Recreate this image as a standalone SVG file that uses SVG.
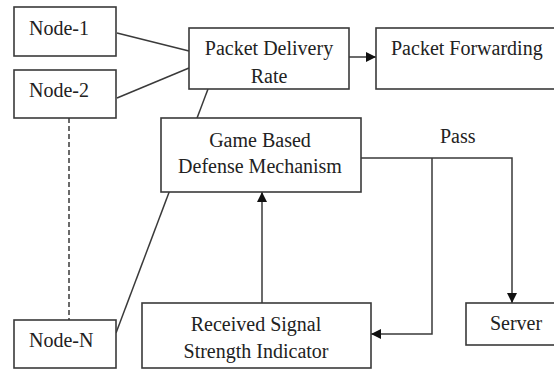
<svg xmlns="http://www.w3.org/2000/svg" width="554" height="370" viewBox="0 0 554 370">
<style>
rect{fill:#fff;stroke:#3a3a3a;stroke-width:1.6}
text{font-family:'Liberation Serif','DejaVu Serif',serif;font-size:20px;fill:#222}
.c{text-anchor:middle}
.ln{fill:none;stroke:#3a3a3a;stroke-width:1.5}
</style>
<defs>
<marker id="ah" viewBox="0 0 10 10" refX="10" refY="5" markerWidth="10" markerHeight="10" markerUnits="userSpaceOnUse" orient="auto">
<path d="M0,0 L10,5 L0,10 z" fill="#111"/>
</marker>
</defs>
<rect x="0" y="0" width="554" height="370" style="stroke:none;fill:#fff"/>
<g id="connectors">
<line class="ln" x1="117" y1="33" x2="189" y2="51"/>
<line class="ln" x1="117" y1="98" x2="189" y2="68"/>
<line class="ln" x1="208" y1="89" x2="116" y2="333"/>
<line class="ln" x1="69" y1="118" x2="69" y2="320" stroke-dasharray="5,3"/>
<line class="ln" x1="349" y1="57" x2="376" y2="57" marker-end="url(#ah)"/>
<polyline class="ln" points="361,158 512,158 512,303" marker-end="url(#ah)"/>
<polyline class="ln" points="432,158 432,334 371,334" marker-end="url(#ah)"/>
<line class="ln" x1="262" y1="303" x2="262" y2="192" marker-end="url(#ah)"/>
</g>
<g id="node1"><rect x="14" y="7" width="102" height="49"/><text x="29" y="35">Node-1</text></g>
<g id="node2"><rect x="14" y="70" width="102" height="48"/><text x="29" y="97">Node-2</text></g>
<g id="nodeN"><rect x="14" y="320" width="102" height="48"/><text x="29" y="347">Node-N</text></g>
<g id="pdr"><rect x="189" y="28" width="160" height="61"/><text class="c" x="269" y="55">Packet Delivery</text><text class="c" x="269" y="83">Rate</text></g>
<g id="pf"><rect x="376" y="28" width="182" height="61"/><text x="391" y="55">Packet Forwarding</text></g>
<g id="game"><rect x="161" y="118" width="200" height="74"/><text class="c" x="260" y="147">Game Based</text><text class="c" x="260" y="173">Defense Mechanism</text></g>
<g id="rssi"><rect x="142" y="303" width="229" height="65"/><text class="c" x="256" y="331">Received Signal</text><text class="c" x="256" y="358">Strength Indicator</text></g>
<g id="server"><rect x="466" y="303" width="92" height="42"/><text class="c" x="516" y="330">Server</text></g>
<text x="440" y="143">Pass</text>
</svg>
